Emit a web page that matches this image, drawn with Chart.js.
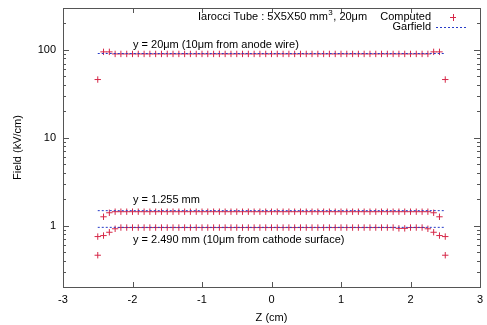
<!DOCTYPE html>
<html>
<head>
<meta charset="utf-8">
<script src="https://cdn.jsdelivr.net/npm/chart.js@4.4.1/dist/chart.umd.min.js"></script>
<style>
body{margin:0;background:#fff;}
#wrap{width:487px;height:325px;}
</style>
</head>
<body>
<div id="wrap"><canvas id="chartCampo"></canvas></div>
<script>
// posiciones z (cm) del calculo
var zComputed=[-2.5,-2.417,-2.333,-2.25,-2.167,-2.083,-2,-1.917,-1.833,-1.75,-1.667,-1.583,-1.5,-1.417,-1.333,-1.25,-1.167,-1.083,-1,-0.917,-0.833,-0.75,-0.667,-0.583,-0.5,-0.417,-0.333,-0.25,-0.167,-0.083,0,
	0.083,0.167,0.25,0.333,0.417,0.5,0.583,0.667,0.75,0.833,0.917,1,1.083,1.167,1.25,1.333,1.417,1.5,1.583,1.667,1.75,1.833,1.917,2,2.083,2.167,2.25,2.333,2.417,2.5];
// campo (kV/cm) y = 20um
var campoAnodo=[46,95,95,90,90,90,90,90,90,90,90,90,90,90,90,90,90,90,90,90,90,90,90,90,90,90,90,90,90,90,90,
	90,90,90,90,90,90,90,90,90,90,90,90,90,90,90,90,90,90,90,90,90,90,90,90,90,90,90,95,95,46];
// y = 1.255 mm
var campoMedio=[0.46,1.26,1.40,1.44,1.44,1.44,1.44,1.44,1.44,1.44,1.44,1.44,1.44,1.44,1.44,1.44,1.44,1.44,1.44,1.44,1.44,1.44,1.44,1.44,1.44,1.44,1.44,1.44,1.44,1.44,1.44,
	1.44,1.44,1.44,1.44,1.44,1.44,1.44,1.44,1.44,1.44,1.44,1.44,1.44,1.44,1.44,1.44,1.44,1.44,1.44,1.44,1.44,1.44,1.44,1.44,1.44,1.44,1.44,1.40,1.26,0.46];
// y = 2.490 mm
var campoCatodo=[0.75,0.77,0.84,0.92,0.95,0.95,0.95,0.95,0.95,0.95,0.95,0.95,0.95,0.95,0.95,0.95,0.95,0.95,0.95,0.95,0.95,0.95,0.95,0.95,0.95,0.95,0.95,0.95,0.95,0.95,0.95,
	0.95,0.95,0.95,0.95,0.95,0.95,0.95,0.95,0.95,0.95,0.95,0.95,0.95,0.95,0.95,0.95,0.95,0.95,0.95,0.95,0.95,0.93,0.93,0.95,0.95,0.95,0.92,0.84,0.77,0.75];
// Garfield
var zGarfield=[-2.5,-2,-1.5,-1,-0.5,0,0.5,1,1.5,2,2.5];
var garfieldAnodo=[91,91,91,91,91,91,91,91,91,91,91];
var garfieldMedio=[1.48,1.48,1.48,1.48,1.48,1.48,1.48,1.48,1.48,1.48,1.48];
var garfieldCatodo=[0.955,0.955,0.955,0.955,0.955,0.955,0.955,0.955,0.955,0.955,0.955];
var ticksX=[-3,-2,-1,0,1,2,3];
var ticksY=[1,10,100];
var menoresY=[0.2,0.3,0.4,0.5,0.6,0.7,0.8,0.9,2,3,4,5,6,7,8,9,20,30,40,50,60,70,80,90,200,300];

var rojo='rgb(214,40,72)';
var azul='rgb(40,60,200)';
var fuente='"Liberation Sans", Arial, Helvetica, sans-serif';

function puntos(zs,vals){
	var r=[];
	for(var i=0;i<zs.length;i++) r.push({x:zs[i],y:vals[i]});
	return r;
}
function serieComputed(vals){
	return {type:'scatter',data:puntos(zComputed,vals),showLine:false,pointStyle:'cross',pointRadius:3.2,
		borderColor:rojo,backgroundColor:rojo,borderWidth:1,pointHoverRadius:3.2};
}
function serieGarfield(vals){
	return {type:'line',data:puntos(zGarfield,vals),showLine:true,pointRadius:0,borderColor:azul,
		borderWidth:1,borderDash:[2,2],fill:false,tension:0};
}

var marco={
	id:'marco',
	afterDraw:function(chart){
		var c=chart.ctx,a=chart.chartArea,sx=chart.scales.x,sy=chart.scales.y;
		c.save();
		c.strokeStyle='#555';
		c.lineWidth=1;
		c.strokeRect(Math.round(a.left)+0.5,Math.round(a.top)+0.5,Math.round(a.right-a.left),Math.round(a.bottom-a.top));
		c.beginPath();
		ticksX.forEach(function(v){
			var px=Math.round(sx.getPixelForValue(v))+0.5;
			c.moveTo(px,a.bottom);c.lineTo(px,a.bottom-5);
			c.moveTo(px,a.top);c.lineTo(px,a.top+5);
		});
		ticksY.forEach(function(v){
			var py=Math.round(sy.getPixelForValue(v))+0.5;
			c.moveTo(a.left,py);c.lineTo(a.left+6,py);
			c.moveTo(a.right,py);c.lineTo(a.right-6,py);
		});
		menoresY.forEach(function(v){
			var py=Math.round(sy.getPixelForValue(v))+0.5;
			c.moveTo(a.left,py);c.lineTo(a.left+3,py);
			c.moveTo(a.right,py);c.lineTo(a.right-3,py);
		});
		c.stroke();

		c.fillStyle='#000';
		c.font='11px '+fuente;
		c.textBaseline='middle';
		c.textAlign='left';
		// titulo
		var t1='Iarocci Tube : 5X5X50 mm',x0=a.left+135,y0=a.top+9;
		c.fillText(t1,x0,y0);
		var w=c.measureText(t1).width;
		c.font='8px '+fuente;
		c.fillText('3',x0+w+0.5,y0-4);
		var w3=c.measureText('3').width;
		c.font='11px '+fuente;
		c.fillText(', 20\u03bcm',x0+w+w3+1,y0);
		// etiquetas de curvas
		c.fillText('y = 20\u03bcm (10\u03bcm from anode wire)',a.left+70,a.top+37);
		c.fillText('y = 1.255 mm',a.left+70,a.top+192);
		c.fillText('y = 2.490 mm (10\u03bcm from cathode surface)',a.left+70,a.top+232);
		// leyenda
		c.textAlign='right';
		c.fillText('Computed',a.left+368,a.top+9);
		c.fillText('Garfield',a.left+368,a.top+19);
		c.strokeStyle=rojo;
		c.beginPath();
		c.moveTo(a.left+387,a.top+9.5);c.lineTo(a.left+393,a.top+9.5);
		c.moveTo(a.left+390.5,a.top+6);c.lineTo(a.left+390.5,a.top+13);
		c.stroke();
		c.strokeStyle=azul;
		c.setLineDash([2,2]);
		c.beginPath();
		c.moveTo(a.left+373,a.top+19.5);c.lineTo(a.left+403,a.top+19.5);
		c.stroke();
		c.restore();
	}
};

new Chart(document.getElementById('chartCampo'),{
	data:{
		datasets:[
			serieGarfield(garfieldAnodo),
			serieGarfield(garfieldMedio),
			serieGarfield(garfieldCatodo),
			serieComputed(campoAnodo),
			serieComputed(campoMedio),
			serieComputed(campoCatodo)
		]
	},
	options:{
		responsive:true,
		maintainAspectRatio:false,
		animation:false,
		events:[],
		layout:{padding:{top:8,right:7,left:0,bottom:0}},
		plugins:{legend:{display:false},tooltip:{enabled:false}},
		scales:{
			x:{
				type:'linear',min:-3,max:3,
				afterBuildTicks:function(s){s.ticks=ticksX.map(function(v){return {value:v};});},
				afterFit:function(s){s.height=38;s.paddingLeft=0;s.paddingRight=0;},
				grid:{display:false,drawTicks:false},
				border:{display:false},
				ticks:{color:'#000',font:{size:11,family:fuente},padding:6,maxRotation:0},
				title:{display:true,text:'Z (cm)',color:'#000',font:{size:11,family:fuente},padding:{top:3,bottom:0}}
			},
			y:{
				type:'logarithmic',min:0.2,max:300,
				afterBuildTicks:function(s){s.ticks=ticksY.map(function(v){return {value:v};});},
				afterFit:function(s){s.width=63;s.paddingTop=0;s.paddingBottom=0;},
				grid:{display:false,drawTicks:false},
				border:{display:false},
				ticks:{color:'#000',font:{size:11,family:fuente},padding:7,callback:function(v){return String(v);}},
				title:{display:true,text:'Field (kV/cm)',color:'#000',font:{size:11,family:fuente},padding:{top:11,bottom:0}}
			}
		}
	},
	plugins:[marco]
});
</script>
</body>
</html>
